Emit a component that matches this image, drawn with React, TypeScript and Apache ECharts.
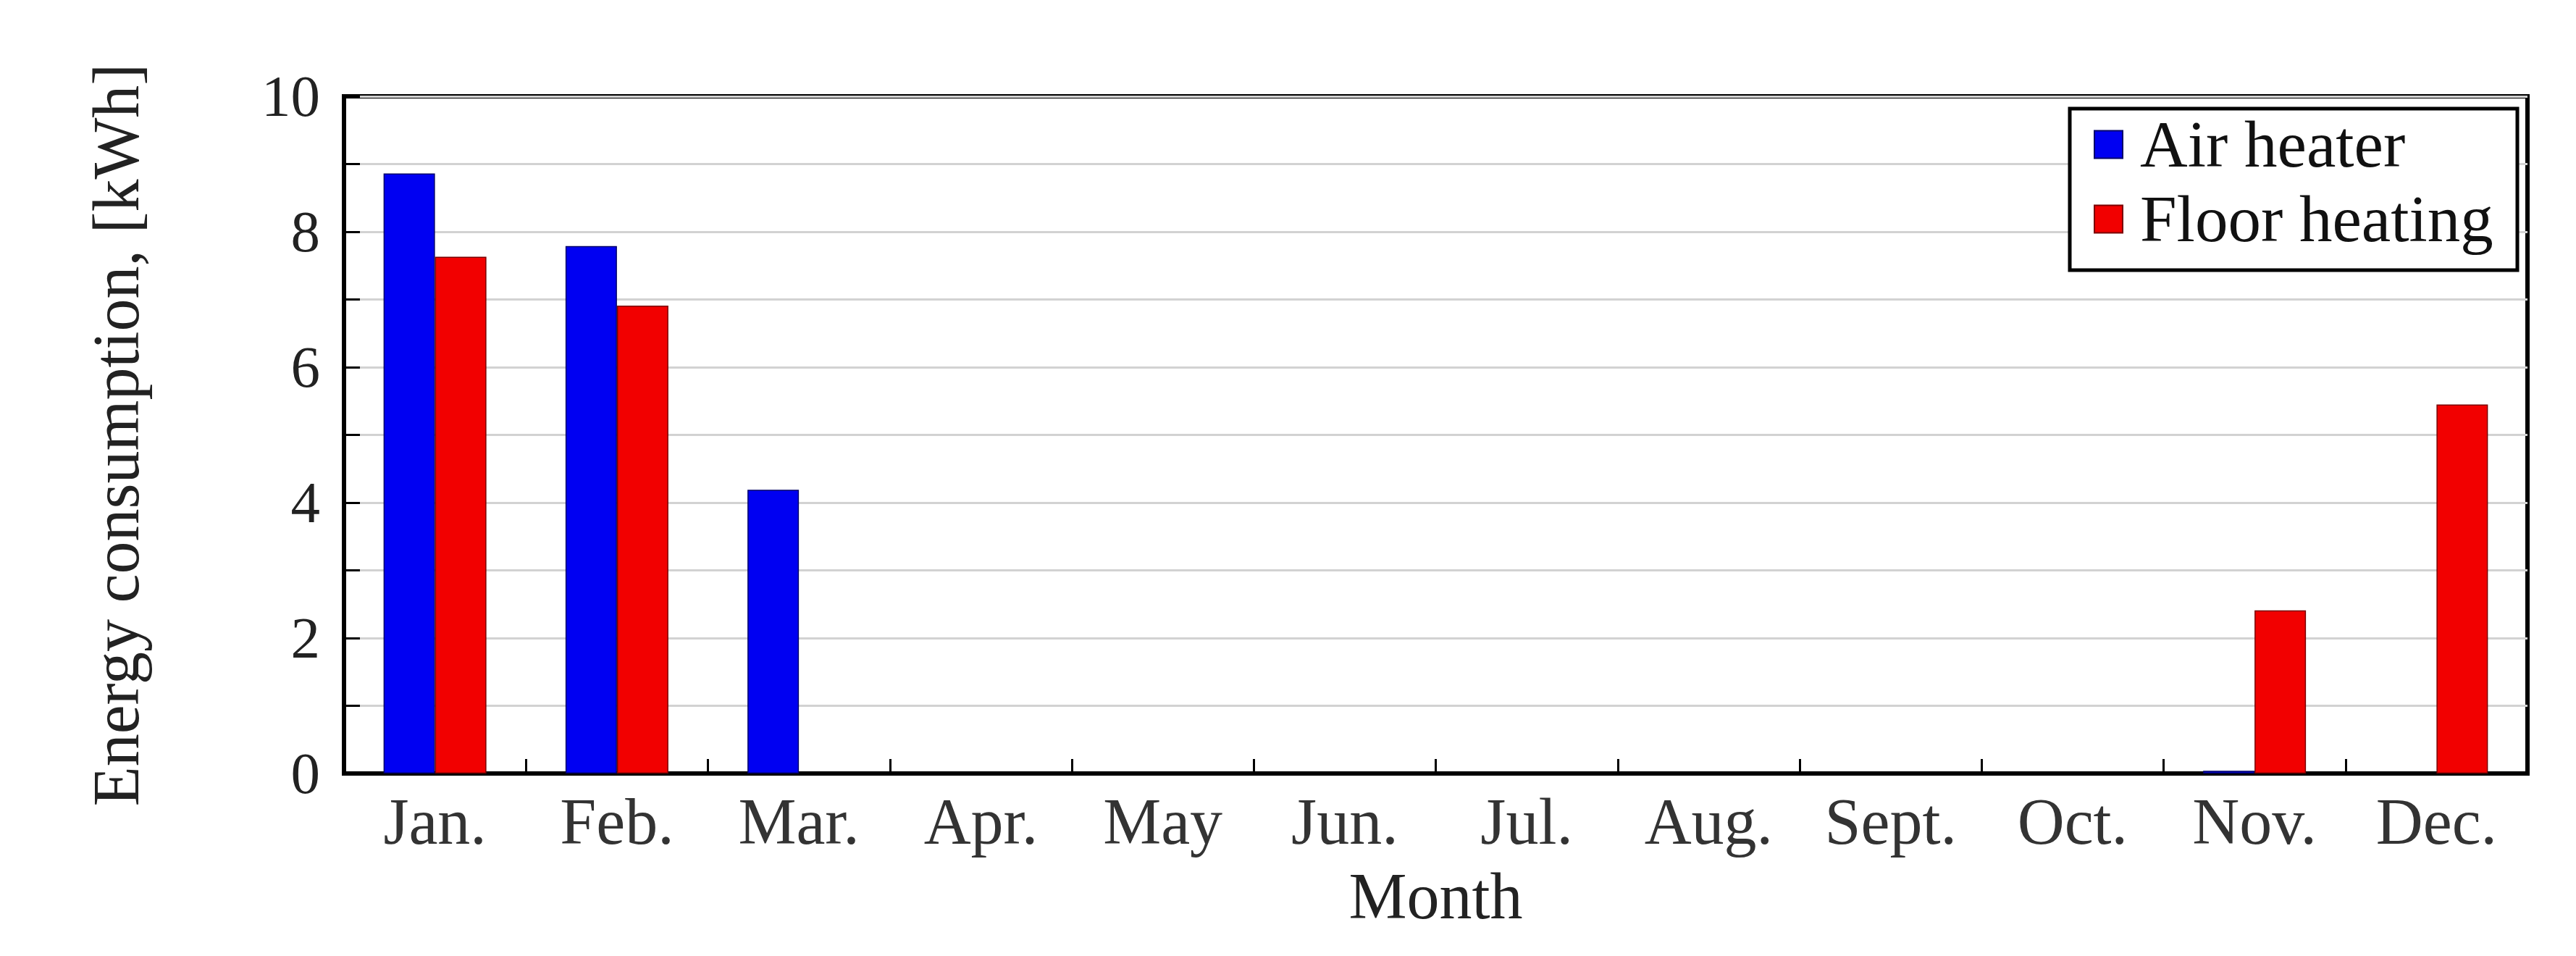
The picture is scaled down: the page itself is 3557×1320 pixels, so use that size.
import React, { useEffect, useRef } from "react";
import * as echarts from "echarts";

const months = ["Jan.", "Feb.", "Mar.", "Apr.", "May", "Jun.", "Jul.", "Aug.", "Sept.", "Oct.", "Nov.", "Dec."];
const airHeater = [8.86, 7.79, 4.19, 0, 0, 0, 0, 0, 0, 0, 0.04, 0];
const floorHeating = [7.63, 6.91, 0, 0, 0, 0, 0, 0, 0, 0, 2.41, 5.45];
const seriesNames = ["Air heater", "Floor heating"];
const yTitle = "Energy consumption, [kWh]";
const xTitle = "Month";

const FONT = "Liberation Serif";

const toBarData = (arr: number[]) =>
  arr.map((v) => (v === 0 ? { value: v, itemStyle: { borderWidth: 0 } } : v));

export default function App() {
  const ref = useRef<HTMLDivElement>(null);
  useEffect(() => {
    if (!ref.current) return;
    const chart = echarts.init(ref.current, null, { renderer: "svg" });
    chart.setOption({
      animation: false,
      backgroundColor: "#fff",
      textStyle: { fontFamily: FONT },
      grid: {
        left: 475,
        right: 67,
        top: 133,
        bottom: 252,
        show: true,
        borderColor: "#000",
        borderWidth: 6,
        backgroundColor: "transparent",
      },
      legend: {
        orient: "vertical",
        left: 2891,
        top: 154,
        padding: 0,
        itemWidth: 39,
        itemHeight: 38,
        itemGap: 12,
        icon: "rect",
        z: 5,
        textStyle: {
          fontFamily: FONT,
          fontSize: 91,
          color: "#111",
          padding: [0, 0, 0, 19],
        },
        data: seriesNames,
      },
      graphic: [
        {
          type: "rect",
          z: 4,
          shape: { x: 2858, y: 150, width: 618, height: 223 },
          style: { fill: "#fff", stroke: "#000", lineWidth: 5 },
        },
      ],
      xAxis: {
        type: "category",
        data: months,
        boundaryGap: true,
        name: xTitle,
        nameLocation: "middle",
        nameGap: 124,
        nameTextStyle: { fontFamily: FONT, fontSize: 90, color: "#222" },
        axisLine: { show: true, lineStyle: { color: "#000", width: 6 } },
        axisTick: { show: true, inside: true, length: 20, lineStyle: { color: "#000", width: 3 } },
        axisLabel: { fontFamily: FONT, fontSize: 90, color: "#333", margin: 21, interval: 0 },
        splitLine: { show: false },
      },
      yAxis: {
        type: "value",
        min: 0,
        max: 10,
        interval: 2,
        name: yTitle,
        nameLocation: "middle",
        nameGap: 270,
        nameTextStyle: { fontFamily: FONT, fontSize: 90, color: "#222" },
        axisLine: { show: true, lineStyle: { color: "#000", width: 6 } },
        axisTick: { show: true, inside: true, length: 22, lineStyle: { color: "#000", width: 3 } },
        minorTick: { show: true, splitNumber: 2, length: 22, lineStyle: { color: "#000", width: 3 } },
        axisLabel: { fontFamily: FONT, fontSize: 81, color: "#222", margin: 33 },
        splitLine: { show: true, lineStyle: { color: "#d2d2d2", width: 3 } },
        minorSplitLine: { show: true, lineStyle: { color: "#d2d2d2", width: 3 } },
      },
      series: [
        {
          name: seriesNames[0],
          type: "bar",
          data: toBarData(airHeater),
          barWidth: 71,
          barGap: "0%",
          itemStyle: { color: "#0000f2", borderColor: "#00006a", borderWidth: 1.5 },
        },
        {
          name: seriesNames[1],
          type: "bar",
          data: toBarData(floorHeating),
          barWidth: 71,
          barGap: "0%",
          itemStyle: { color: "#f20000", borderColor: "#7a0000", borderWidth: 1.5 },
        },
      ],
    });
    return () => chart.dispose();
  }, []);
  return (
    <div
      ref={ref}
      style={{ position: "fixed", left: 0, top: 0, width: 3557, height: 1320, background: "#fff" }}
    />
  );
}
